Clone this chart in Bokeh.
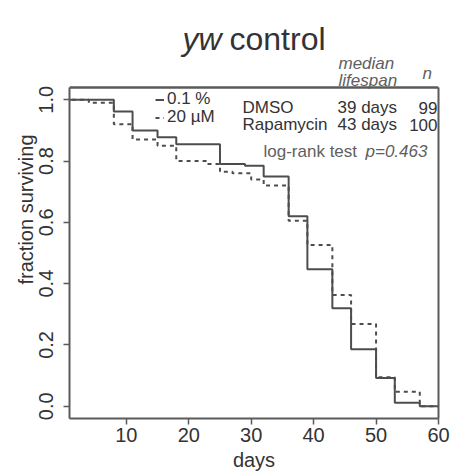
from bokeh.plotting import figure
from bokeh.models import (Range1d, FixedTicker, Label, Legend, LegendItem,
                          LinearAxis, Span)
from bokeh.embed import file_html
from bokeh.resources import INLINE

# ---- data ----
days_dmso = [0, 8, 11, 15, 18, 25, 29, 32, 36, 39, 43, 46, 50, 53, 57, 60]
surv_dmso = [1.0, 0.962, 0.90, 0.878, 0.855, 0.79, 0.785, 0.75, 0.62, 0.447,
             0.32, 0.186, 0.092, 0.011, 0.0, 0.0]
days_rapa = [0, 4, 8, 11, 15, 18, 23, 25, 27, 30, 32, 36, 39, 43, 46, 50, 53, 57, 60]
surv_rapa = [1.0, 0.99, 0.92, 0.87, 0.85, 0.80, 0.79, 0.765, 0.76, 0.74, 0.72,
             0.605, 0.526, 0.363, 0.268, 0.095, 0.047, 0.0, 0.0]
x_ticks = [10, 20, 30, 40, 50, 60]
y_ticks = [0.0, 0.2, 0.4, 0.6, 0.8, 1.0]
y_tick_labels = ["0.0", "0.2", "0.4", "0.6", "0.8", "1.0"]
groups = ["0.1 %", "20 \u00b5M"]
treatments = ["DMSO", "Rapamycin"]
medians = ["39 days", "43 days"]
counts = ["99", "100"]
p_value = "p=0.463"

FONT = "Liberation Sans"
LINE = "#4d4d4d"
AXC = "#5a5a5a"
TXT = "#333333"
GREY = "#606060"

# plotting region (data limits of the boxed panel) and its pixel edges
XR = (0.9, 60.0)
YR = (-0.04, 1.04)
L, R, T, B = 69, 438, 87, 418


def dx(px):
    return XR[0] + (px - L) / (R - L) * (XR[1] - XR[0])


def dy(py):
    return YR[0] + (B - py) / (B - T) * (YR[1] - YR[0])


# frame reaches to the top of the canvas so the title/header can live inside it
p = figure(width=452, height=475, output_backend="svg", toolbar_location=None,
           x_range=Range1d(*XR), y_range=Range1d(YR[0], dy(0)),
           min_border_left=L, min_border_right=452 - R,
           min_border_top=0, min_border_bottom=475 - B)
p.grid.visible = False
p.background_fill_color = "white"
p.border_fill_color = "white"
p.outline_line_color = None

for ax in (p.xaxis[0], p.yaxis[0]):
    ax.axis_line_color = AXC
    ax.axis_line_width = 2
    ax.major_tick_line_color = AXC
    ax.major_tick_line_width = 1.5
    ax.major_tick_in = 0
    ax.major_tick_out = 6
    ax.minor_tick_line_color = None
    ax.major_label_text_font = FONT
    ax.major_label_text_font_size = "20px"
    ax.major_label_text_color = TXT
    ax.axis_label_text_font = FONT
    ax.axis_label_text_font_size = "20px"
    ax.axis_label_text_font_style = "normal"
    ax.axis_label_text_color = TXT

p.xaxis.ticker = FixedTicker(ticks=x_ticks)
p.xaxis.major_label_standoff = 3
p.xaxis.axis_label = "days"
p.xaxis.axis_label_standoff = 4
p.xaxis.axis_label_text_line_height = 1.0
p.xaxis.major_label_text_line_height = 1.0

p.yaxis.ticker = FixedTicker(ticks=y_ticks)
p.yaxis.major_label_overrides = {t: s for t, s in zip(y_ticks, y_tick_labels)}
p.yaxis.major_label_orientation = "vertical"
p.yaxis.major_label_standoff = 10
p.yaxis.axis_label = "fraction surviving"
p.yaxis.axis_label_standoff = 0
p.yaxis.bounds = YR  # left edge of the box

# right edge of the box: an axis with only its line
right_axis = LinearAxis(ticker=FixedTicker(ticks=[]), bounds=YR,
                        axis_line_color=AXC, axis_line_width=2,
                        major_tick_line_color=None, minor_tick_line_color=None,
                        major_label_text_font_size="0px")
p.add_layout(right_axis, "right")

# top edge of the box
p.add_layout(Span(location=YR[1], dimension="width", line_color=AXC,
                  line_width=2))
p.line([XR[0], XR[1]], [YR[1], YR[1]], line_color=AXC, line_width=2)

r1 = p.step(days_dmso, surv_dmso, mode="after", line_color=LINE, line_width=2)
r2 = p.step(days_rapa, surv_rapa, mode="after", line_color=LINE, line_width=2,
            line_dash="4 4")

# one single-row legend per series, so the rows sit 17 px apart as in the reference
for item_label, rend, row_center in [(groups[0], r1, 98.5), (groups[1], r2, 116.5)]:
    lg = Legend(items=[LegendItem(label=item_label, renderers=[rend])],
                location=(155 - L, B - (row_center + 10.5)),
                padding=0, spacing=0, margin=0,
                glyph_width=9, glyph_height=17, label_height=17,
                label_standoff=3, label_text_font=FONT,
                label_text_font_size="17px", label_text_color=TXT,
                background_fill_alpha=0, border_line_color=None)
    p.add_layout(lg, "center")


def lab(text, px, py, size="17px", align="left", style="normal", color=TXT,
        baseline="alphabetic"):
    p.add_layout(Label(x=dx(px), y=dy(py), text=text, text_font=FONT,
                       text_font_size=size, text_align=align,
                       text_baseline=baseline, text_font_style=style,
                       text_color=color))


# title
lab("yw", 182, 38, size="32px", style="italic")
lab("control", 229, 38, size="32px")

# table header
lab("median", 338, 63, style="italic", color=GREY)
lab("lifespan", 338, 80, style="italic", color=GREY)
lab("n", 422, 73, style="italic", color=GREY)

# table rows
for i, base in enumerate([107, 124]):
    lab(treatments[i], 242, base)
    lab(medians[i], 337, base)
    lab(counts[i], 437, base, align="right")

lab("log-rank test", 263, 151, color=GREY)
lab(p_value, 365, 151, style="italic", color=GREY)

open("out.html", "w").write(file_html(p, INLINE))
